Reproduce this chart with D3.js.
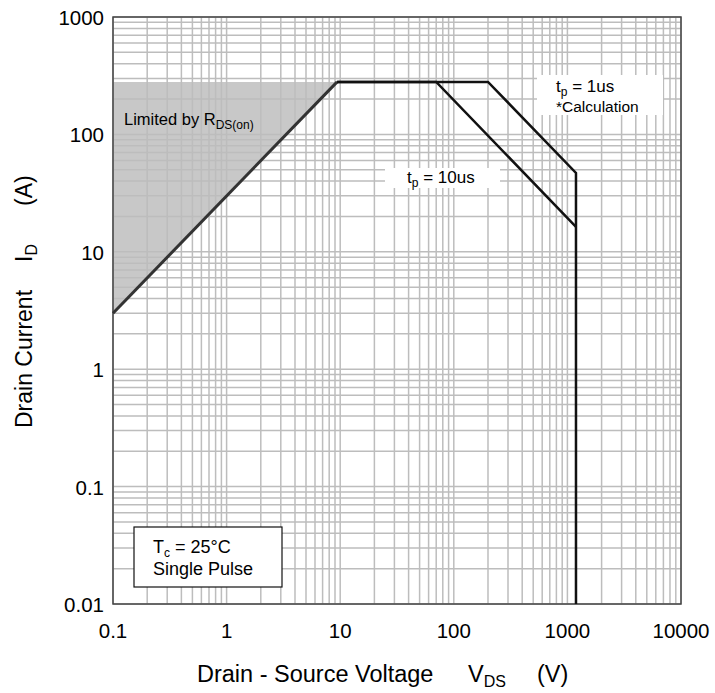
<!DOCTYPE html>
<html><head><meta charset="utf-8">
<script src="https://cdn.jsdelivr.net/npm/d3@7"></script>
<style>body{margin:0;background:#fff}svg{font-family:"Liberation Sans",Arial,sans-serif}</style>
</head><body><svg id="c" width="715" height="693"></svg>
<script>
const xTicks = [0.1, 1, 10, 100, 1000, 10000];
const yTicks = [0.01, 0.1, 1, 10, 100, 1000];
const xTickLabels = ["0.1", "1", "10", "100", "1000", "10000"];
const yTickLabels = ["0.01", "0.1", "1", "10", "100", "1000"];
// SOA boundaries (V, A)
const rdsLine = [[0.1, 3.0], [9.4, 280]];
const rdsShade = [[0.1, 280], [9.4, 280], [0.1, 3.0]];
const tp10us = [[9.4, 280], [70, 280], [1190, 16.3]];
const tp1us = [[9.4, 280], [200, 280], [1190, 47], [1190, 0.01]];

const svg = d3.select("#c");
const L = 113, R = 681, T = 17, B = 604;
const x = d3.scaleLog().domain([0.1, 10000]).range([L, R]);
const y = d3.scaleLog().domain([0.01, 1000]).range([B, T]);

const line = d3.line().x(d => x(d[0])).y(d => y(d[1]));
svg.append("path").attr("d", line(rdsShade) + "Z").attr("fill", "#c8c8c8");

// grid
const minor = [];
for (let e = -1; e < 4; e++) for (let k = 1; k <= 9; k++) minor.push(k * Math.pow(10, e));
minor.push(10000);
const minorY = [];
for (let e = -2; e < 3; e++) for (let k = 1; k <= 9; k++) minorY.push(k * Math.pow(10, e));
minorY.push(1000);
svg.append("g").selectAll("line").data(minor).join("line")
  .attr("x1", d => x(d)).attr("x2", d => x(d)).attr("y1", T).attr("y2", B)
  .attr("stroke", "#bdbdbd").attr("stroke-width", 1.5);
svg.append("g").selectAll("line").data(minorY).join("line")
  .attr("y1", d => y(d)).attr("y2", d => y(d)).attr("x1", L).attr("x2", R)
  .attr("stroke", "#bdbdbd").attr("stroke-width", 1.5);

svg.append("rect").attr("x", L).attr("y", T).attr("width", R - L).attr("height", B - T)
  .attr("fill", "none").attr("stroke", "#444").attr("stroke-width", 1.5);

svg.append("path").attr("d", line(rdsLine)).attr("fill", "none").attr("stroke", "#333").attr("stroke-width", 3);
svg.append("path").attr("d", line(tp10us)).attr("fill", "none").attr("stroke", "#111").attr("stroke-width", 2.5);
svg.append("path").attr("d", line(tp1us)).attr("fill", "none").attr("stroke", "#111").attr("stroke-width", 2.5);

svg.append("g").selectAll("text").data(xTicks).join("text")
  .attr("x", d => x(d)).attr("y", 638).attr("text-anchor", "middle")
  .attr("font-size", 20.5).text((d, i) => xTickLabels[i]);
svg.append("g").selectAll("text").data(yTicks).join("text")
  .attr("x", 104).attr("y", d => y(d) + 8).attr("text-anchor", "end")
  .attr("font-size", 20.5).text((d, i) => yTickLabels[i]);

// axis titles
const xt = svg.append("text").attr("y", 682).attr("font-size", 23.5);
xt.append("tspan").attr("x", 197).text("Drain - Source Voltage");
xt.append("tspan").attr("x", 468).text("V");
xt.append("tspan").attr("font-size", 16).attr("dy", 5).text("DS");
xt.append("tspan").attr("x", 537).attr("dy", -5).text("(V)");
const yt = svg.append("text").attr("transform", "translate(32,0) rotate(-90)").attr("font-size", 23);
yt.append("tspan").attr("x", -428).text("Drain Current");
yt.append("tspan").attr("x", -262).text("I");
yt.append("tspan").attr("font-size", 16).attr("dy", 5).text("D");
yt.append("tspan").attr("x", -206).attr("dy", -5).text("(A)");

// annotations
const lim = svg.append("text").attr("x", 124).attr("y", 125).attr("font-size", 16.5);
lim.append("tspan").text("Limited by R");
lim.append("tspan").attr("font-size", 12).attr("dy", 4).text("DS(on)");

svg.append("rect").attr("x", 537).attr("y", 75).attr("width", 126).attr("height", 40).attr("fill", "#fff");
const t1 = svg.append("text").attr("x", 556).attr("y", 92).attr("font-size", 17);
t1.append("tspan").text("t");
t1.append("tspan").attr("font-size", 12).attr("dy", 4).text("p");
t1.append("tspan").attr("dy", -4).text(" = 1us");
svg.append("text").attr("x", 556).attr("y", 112).attr("font-size", 15.5).text("*Calculation");

svg.append("rect").attr("x", 385).attr("y", 168).attr("width", 115).attr("height", 20).attr("fill", "#fff");
const t10 = svg.append("text").attr("x", 407).attr("y", 183).attr("font-size", 17);
t10.append("tspan").text("t");
t10.append("tspan").attr("font-size", 12).attr("dy", 4).text("p");
t10.append("tspan").attr("dy", -4).text(" = 10us");

svg.append("rect").attr("x", 134).attr("y", 527).attr("width", 148).attr("height", 60)
  .attr("fill", "#fff").attr("stroke", "#111").attr("stroke-width", 1.2);
const tc = svg.append("text").attr("x", 153).attr("y", 553).attr("font-size", 18);
tc.append("tspan").text("T");
tc.append("tspan").attr("font-size", 12).attr("dy", 4).text("c");
tc.append("tspan").attr("dy", -4).text(" = 25\u00b0C");
svg.append("text").attr("x", 153).attr("y", 575).attr("font-size", 18).text("Single Pulse");
</script></body></html>
